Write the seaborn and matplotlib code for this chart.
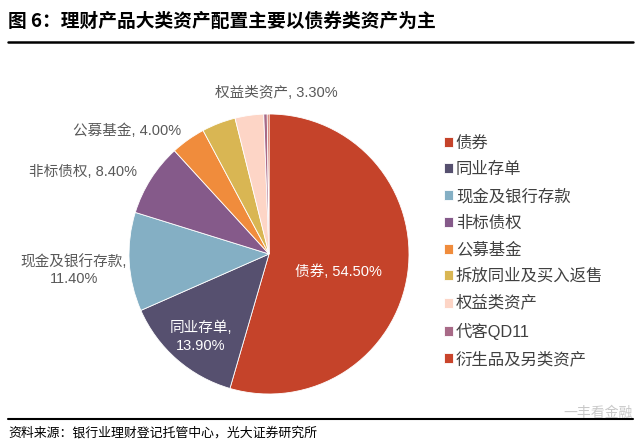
import matplotlib
matplotlib.use("Agg")
import matplotlib.pyplot as plt
import seaborn as sns

# data
labels = ["债券", "同业存单", "现金及银行存款", "非标债权", "公募基金",
          "拆放同业及买入返售", "权益类资产", "代客QD11", "衍生品及另类资产"]
shares = [54.5, 13.9, 11.4, 8.4, 4.0, 3.9, 3.3, 0.4, 0.2]
colors = ["#C5432A", "#56506F", "#84AFC4", "#855A8A", "#F08C3C",
          "#D9B653", "#FDD5C6", "#A86A87", "#C9442B"]

sns.set_theme(style="white")
plt.rcParams['font.family'] = ['Liberation Sans', 'Noto Sans CJK SC', 'DejaVu Sans']

fig = plt.figure(figsize=(6.41, 4.48), dpi=100)
W, H = 641, 448

# title and rules
fig.text(8 / W, 1 - 21 / H, "图 6：理财产品大类资产配置主要以债券类资产为主",
         fontsize=13.5, fontweight="bold", color="black", va="center", ha="left",
         family=['Noto Sans CJK SC', 'DejaVu Sans'])
fig.add_artist(plt.Line2D([8 / W, 633 / W], [1 - 42 / H, 1 - 42 / H], color="black", lw=1.8))
fig.add_artist(plt.Line2D([8 / W, 633 / W], [1 - 419 / H, 1 - 419 / H], color="black", lw=1.5))
fig.text(8 / W, 1 - 433 / H, "资料来源：银行业理财登记托管中心，光大证券研究所",
         fontsize=9.3, color="black", va="center", ha="left",
         family=['Noto Sans CJK SC', 'DejaVu Sans'])
fig.text(633 / W, 1 - 413 / H, "一丰看金融", fontsize=10, color="#C8C8C8",
         va="center", ha="right", family=['Noto Sans CJK SC', 'DejaVu Sans'])

# pie
cx, cy, r = 269, 254, 140
ax = fig.add_axes([(cx - r) / W, (H - cy - r) / H, 2 * r / W, 2 * r / H])
pal = sns.color_palette(colors)
wedges, _ = ax.pie(shares, colors=pal, startangle=90, counterclock=False,
                   wedgeprops=dict(edgecolor="white", linewidth=0.6))
ax.set_xlim(-1, 1)
ax.set_ylim(-1, 1)
ax.set_aspect("auto")
ax.axis("off")

def pct(v):
    return f"{v:.2f}%"

lab_kw = dict(fontsize=10.5, ha="center", va="center")
gray = "#595959"
fig.text(338 / W, 1 - 272 / H, f"{labels[0]}, {pct(shares[0])}", color="white", **lab_kw)
fig.text(201 / W, 1 - 337 / H, f"{labels[1]},\n{pct(shares[1])}", color="white",
         linespacing=1.35, **lab_kw)
fig.text(74 / W, 1 - 270 / H, f"{labels[2]},\n{pct(shares[2])}", color=gray,
         linespacing=1.35, **lab_kw)
fig.text(83 / W, 1 - 172 / H, f"{labels[3]}, {pct(shares[3])}", color=gray, **lab_kw)
fig.text(127 / W, 1 - 131 / H, f"{labels[4]}, {pct(shares[4])}", color=gray, **lab_kw)
fig.text(276 / W, 1 - 93 / H, f"{labels[6]}, {pct(shares[6])}", color=gray, **lab_kw)

leg = fig.legend(wedges, labels, loc="upper left",
                 bbox_to_anchor=(437 / W, 1 - 129 / H), frameon=False,
                 fontsize=11.8, handlelength=0.55, handleheight=0.55,
                 handletextpad=0.2, labelspacing=0.69, borderaxespad=0)
for t in leg.get_texts():
    t.set_color("#404040")

fig.savefig("out.png", dpi=100)
